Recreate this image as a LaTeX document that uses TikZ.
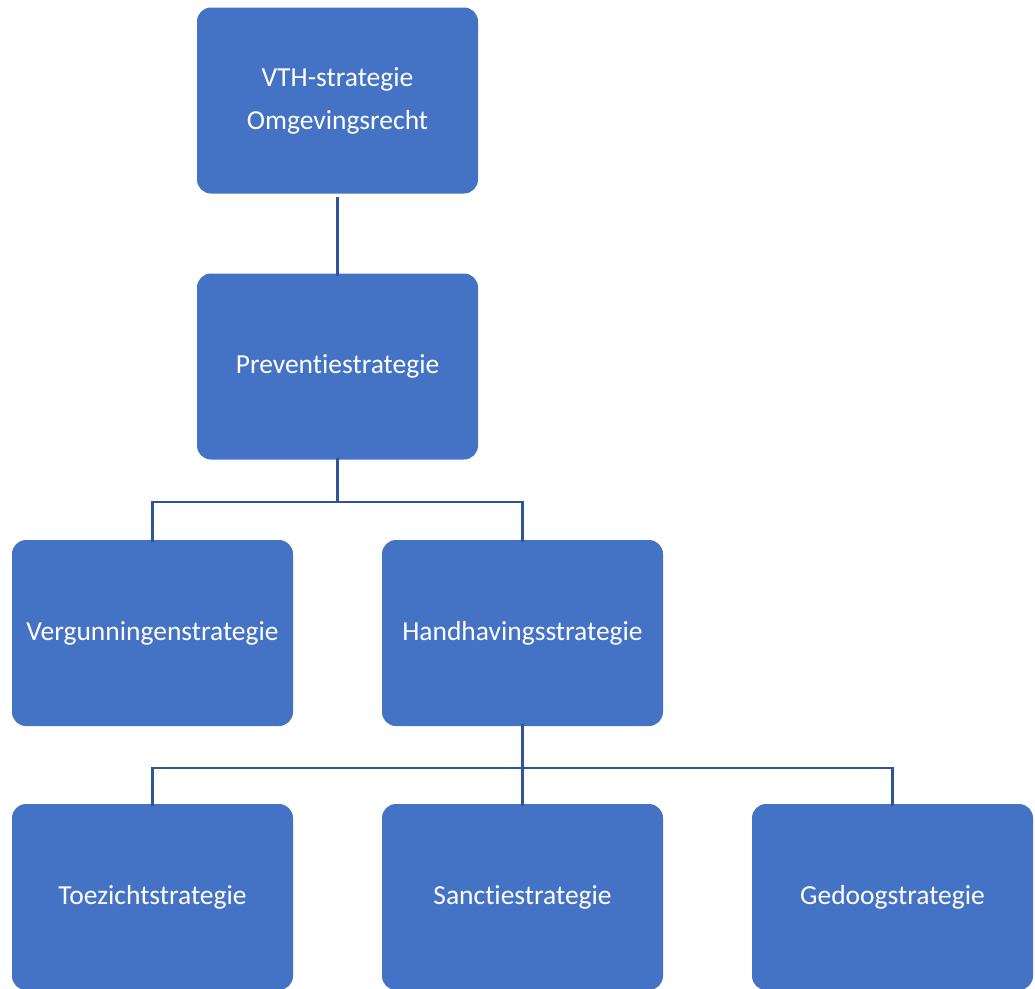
\documentclass[tikz,border=0pt]{standalone}
\usepackage{fontspec}
\setmainfont{Carlito}[Ligatures=NoCommon]
\definecolor{boxblue}{HTML}{4472C4}
\definecolor{lineblue}{HTML}{2F5597}
\begin{document}
\begin{tikzpicture}[x=1pt,y=-1pt,
  box/.style={fill=boxblue, draw=none, rounded corners=14pt, minimum width=281pt, minimum height=186pt, text=white, font=\fontsize{27.5}{43}\selectfont, align=center, inner sep=0pt},
  conn/.style={draw=lineblue, line width=2.2pt}]
\useasboundingbox (0,0) rectangle (1035,988);
\node[box] (vth) at (337.5,100.5) {VTH-strategie\\Omgevingsrecht};
\node[box] (prev) at (337.5,366.5) {Preventiestrategie};
\node[box] (verg) at (152.5,633) {Vergunningenstrategie};
\node[box] (hand) at (522.5,633) {Handhavingsstrategie};
\node[box] (toez) at (152.5,897) {Toezichtstrategie};
\node[box] (sanc) at (522.5,897) {Sanctiestrategie};
\node[box] (gedo) at (892.5,897) {Gedoogstrategie};
\draw[conn] (vth.south) ++(0,3) -- ([yshift=-3pt]prev.north);
\draw[conn] ([yshift=2pt]prev.south) |- (152.5,502) coordinate (l1) -- ([yshift=-2pt]verg.north);
\draw[conn] ([yshift=2pt]prev.south) |- (522.5,502) -- ([yshift=-2pt]hand.north);
\draw[conn] ([yshift=2pt]hand.south) -- ([yshift=-2pt]sanc.north);
\draw[conn] ([yshift=2pt]hand.south) |- (152.5,768) -- ([yshift=-2pt]toez.north);
\draw[conn] ([yshift=2pt]hand.south) |- (892.5,768) -- ([yshift=-2pt]gedo.north);
\end{tikzpicture}
\end{document}
